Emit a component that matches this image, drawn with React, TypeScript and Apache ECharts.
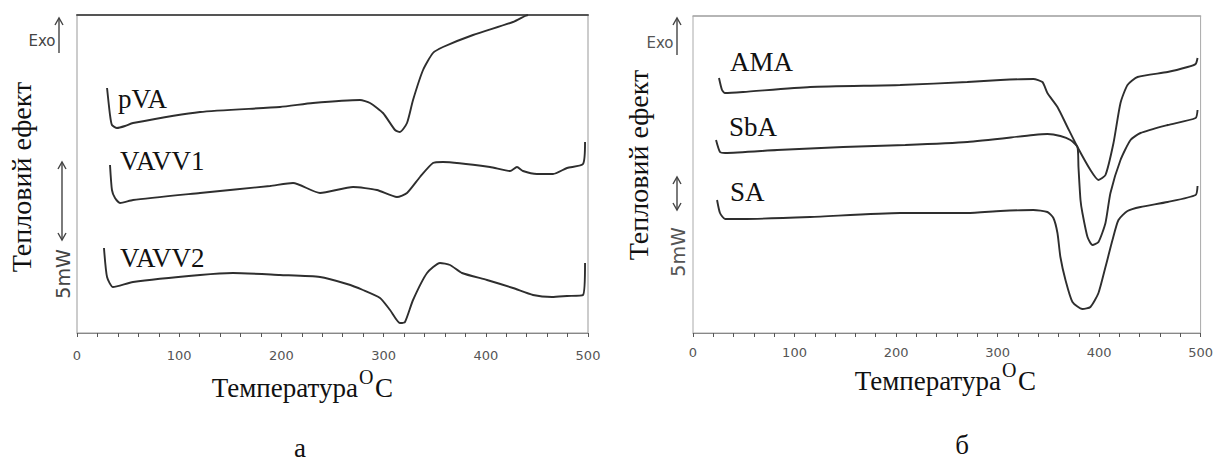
import { useEffect, useRef } from "react";
import * as echarts from "echarts";

// ---- data (temperature °C, signal in arbitrary units: height above plot bottom) ----
const tickLabels = [0, 100, 200, 300, 400, 500];

const leftNames = ["pVA", "VAVV1", "VAVV2"];
const rightNames = ["AMA", "SbA", "SA"];

const pVA = [
  [29.4, 245], [32.3, 218], [34.2, 208], [39.1, 205], [47.0, 207], [54.8, 210],
  [120.4, 221], [198.6, 226], [230.9, 230], [276.9, 233], [286.7, 230],
  [299.4, 220], [311.2, 203], [316.0, 201], [322.9, 210], [328.8, 233],
  [338.6, 263], [348.3, 280], [358.1, 286], [387.5, 298], [426.6, 311],
  [438.4, 317], [441.3, 318],
];

const VAVV1 = [
  [32.3, 168], [34.2, 143], [37.2, 135], [42.1, 130], [54.8, 133], [120.4, 140],
  [188.8, 147], [211.4, 150], [237.8, 140], [270.1, 146], [293.5, 143],
  [313.1, 136], [322.9, 140], [335.6, 156], [348.3, 170], [358.1, 171],
  [404.1, 166], [423.7, 162], [430.5, 166], [436.4, 162], [450.1, 159],
  [465.8, 159], [479.5, 165], [495.1, 169], [497.1, 191],
];

const VAVV2 = [
  [26.4, 85], [29.4, 56], [35.2, 46], [54.8, 51], [120.4, 58], [152.6, 60],
  [198.6, 58], [237.8, 56], [264.2, 49], [279.8, 43], [296.5, 35], [306.3, 23],
  [316.0, 10], [320.9, 11], [328.8, 33], [342.5, 60], [355.2, 70], [365.0, 68],
  [376.7, 60], [401.2, 53], [426.6, 45], [446.2, 38], [464.8, 36], [479.5, 37],
  [495.1, 38], [497.1, 70],
];

const AMA = [
  [25.6, 255], [28.6, 243], [31.6, 240], [49.3, 241], [115.4, 246], [204.1, 248],
  [270.2, 251], [302.8, 253], [335.3, 254], [344.2, 251], [349.1, 240],
  [359.0, 226], [368.8, 206], [378.7, 186], [391.5, 163], [399.4, 153],
  [406.3, 158], [414.2, 190], [421.1, 230], [428.0, 248], [437.9, 256],
  [467.5, 261], [487.2, 266], [495.1, 269], [497.0, 275],
];

const SbA = [
  [22.7, 193], [26.6, 181], [31.6, 180], [82.8, 183], [147.9, 186], [209.1, 188],
  [270.2, 191], [335.3, 198], [349.1, 199], [361.9, 197], [371.8, 193],
  [378.7, 186], [379.7, 166], [381.7, 133], [383.6, 120], [388.6, 96],
  [393.5, 88], [399.4, 91], [406.3, 110], [411.2, 140], [421.1, 173],
  [431.0, 193], [440.8, 200], [467.5, 208], [495.1, 215], [497.0, 223],
];

const SA = [
  [23.7, 133], [26.6, 120], [31.6, 114], [49.3, 114], [115.4, 116], [204.1, 120],
  [270.2, 120], [302.8, 122], [335.3, 123], [349.1, 121], [355.0, 115],
  [359.0, 100], [361.9, 76], [366.9, 53], [373.8, 31], [383.6, 24], [391.5, 26],
  [399.4, 40], [406.3, 66], [413.2, 93], [419.1, 113], [428.0, 122],
  [440.8, 126], [467.5, 131], [495.1, 138], [497.0, 147],
];

const yLabel = "Тепловий ефект";
const xLabel = "Температура";
const panelLetters = ["а", "б"];

const SERIF = "Liberation Serif, serif";
const SANS = "DejaVu Sans, sans-serif";
const LINE = "#2e2e2e";

function txt(text: string, x: number, y: number, size: number, family: string, fill: string, align = "left", rotation = 0) {
  return {
    type: "text",
    x,
    y,
    rotation,
    style: {
      text,
      fontSize: size,
      fontFamily: family,
      fill,
      align,
      textAlign: align,
      verticalAlign: "middle",
      textVerticalAlign: "middle",
    },
  };
}

function vline(x: number, y1: number, y2: number) {
  return { type: "line", shape: { x1: x, y1, x2: x, y2 }, style: { stroke: "#444", lineWidth: 1.4 } };
}
function headUp(x: number, y: number) {
  return { type: "polyline", shape: { points: [[x - 4, y + 7], [x, y], [x + 4, y + 7]] }, style: { stroke: "#444", lineWidth: 1.4, fill: "none" } };
}
function headDown(x: number, y: number) {
  return { type: "polyline", shape: { points: [[x - 4, y - 7], [x, y], [x + 4, y - 7]] }, style: { stroke: "#444", lineWidth: 1.4, fill: "none" } };
}

function bottomAxis(gridIndex: number, margin: number) {
  return {
    type: "value",
    gridIndex,
    min: 0,
    max: 500,
    interval: 20,
    position: "bottom",
    axisLine: { show: true, lineStyle: { color: "#888", width: 1 } },
    axisTick: { show: true, length: 4, lineStyle: { color: "#555", width: 1 } },
    axisLabel: {
      show: true,
      margin,
      color: "#555",
      fontSize: 13,
      fontFamily: SANS,
      formatter: (v: number) => (tickLabels.includes(v) ? String(v) : ""),
    },
    splitLine: { show: false },
  };
}
function topAxis(gridIndex: number, color: string, width: number) {
  return {
    type: "value",
    gridIndex,
    min: 0,
    max: 500,
    position: "top",
    axisLine: { show: true, lineStyle: { color, width } },
    axisTick: { show: false },
    axisLabel: { show: false },
    splitLine: { show: false },
  };
}

function lineSeries(name: string, data: number[][], xAxisIndex: number, yAxisIndex: number) {
  return {
    type: "line",
    name,
    data,
    xAxisIndex,
    yAxisIndex,
    showSymbol: false,
    symbol: "none",
    smooth: 0.2,
    lineStyle: { color: LINE, width: 1.9 },
    z: 3,
  };
}

export default function App() {
  const ref = useRef<HTMLDivElement>(null);
  useEffect(() => {
    if (!ref.current) return;
    const chart = echarts.init(ref.current, undefined, { renderer: "svg" });
    const leftLabelPos = [[118, 99], [120, 161], [120, 258]];
    const rightLabelPos = [[730, 62], [729, 127], [730, 192]];
    const option = {
      animation: false,
      backgroundColor: "#fff",
      grid: [
        { left: 77, right: 628, top: 15, bottom: 140, show: true, borderColor: "#999", borderWidth: 1 },
        { left: 693, right: 15, top: 16, bottom: 140, show: true, borderColor: "#aaa", borderWidth: 1 },
      ],
      xAxis: [bottomAxis(0, 16), topAxis(0, "#555", 2), bottomAxis(1, 13), topAxis(1, "#aaa", 1.5)],
      yAxis: [
        { type: "value", gridIndex: 0, min: 0, max: 318, show: false },
        { type: "value", gridIndex: 1, min: 0, max: 317, show: false },
      ],
      series: [
        lineSeries(leftNames[0], pVA, 0, 0),
        lineSeries(leftNames[1], VAVV1, 0, 0),
        lineSeries(leftNames[2], VAVV2, 0, 0),
        lineSeries(rightNames[0], AMA, 2, 1),
        lineSeries(rightNames[1], SbA, 2, 1),
        lineSeries(rightNames[2], SA, 2, 1),
      ],
      graphic: [
        ...leftNames.map((n, i) => txt(n, leftLabelPos[i][0], leftLabelPos[i][1], 27, SERIF, "#111")),
        ...rightNames.map((n, i) => txt(n, rightLabelPos[i][0], rightLabelPos[i][1], 27, SERIF, "#111")),
        // y labels
        txt(yLabel, 21, 177, 28, SERIF, "#111", "center", Math.PI / 2),
        txt(yLabel, 638, 165, 28, SERIF, "#111", "center", Math.PI / 2),
        // x titles
        txt(xLabel, 358, 388, 27, SERIF, "#111", "right"),
        txt("O", 359, 377, 20, SERIF, "#111"),
        txt("C", 375, 388, 27, SERIF, "#111"),
        txt(xLabel, 1001, 381, 27, SERIF, "#111", "right"),
        txt("O", 1002, 370, 20, SERIF, "#111"),
        txt("C", 1018, 381, 27, SERIF, "#111"),
        // panel letters
        txt(panelLetters[0], 300, 448, 27, SERIF, "#111", "center"),
        txt(panelLetters[1], 962, 445, 27, SERIF, "#111", "center"),
        // Exo markers
        txt("Exo", 42, 41, 15, SANS, "#444", "center"),
        vline(59, 18, 53),
        headUp(59, 18),
        txt("Exo", 660, 43, 15, SANS, "#555", "center"),
        vline(677, 18, 55),
        headUp(677, 18),
        // 5 mW scale markers
        vline(62, 162, 240),
        headUp(62, 162),
        headDown(62, 240),
        txt("5mW", 63, 274, 19, SANS, "#444", "center", Math.PI / 2),
        vline(677, 177, 210),
        headUp(677, 177),
        headDown(677, 210),
        txt("5mW", 678, 252, 19, SANS, "#555", "center", Math.PI / 2),
      ],
    };
    chart.setOption(option as any);
    return () => chart.dispose();
  }, []);
  return (
    <div
      ref={ref}
      style={{ position: "absolute", left: 0, top: 0, width: 1216, height: 473 }}
    />
  );
}
